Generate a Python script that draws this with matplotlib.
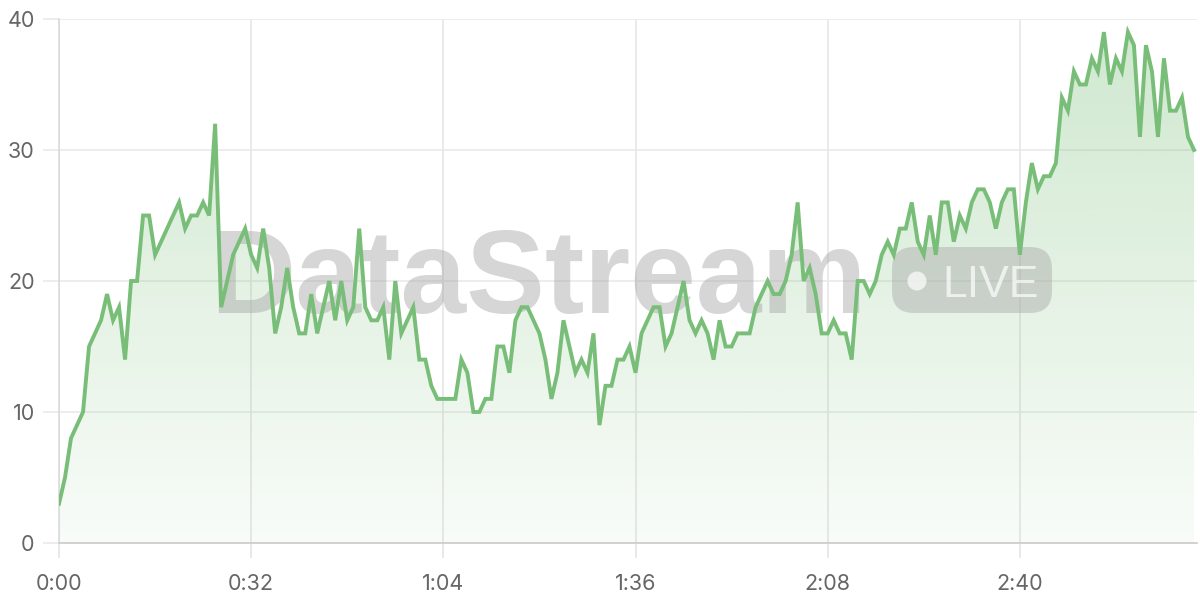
import numpy as np
import matplotlib
matplotlib.use("Agg")
import matplotlib.pyplot as plt
from matplotlib.patches import FancyBboxPatch, Circle

# one reading per second, 0:00 .. 3:09
values = [3, 5, 8, 9, 10, 15, 16, 17, 19, 17, 18, 14, 20, 20, 25, 25, 22, 23, 24, 25,
          26, 24, 25, 25, 26, 25, 32, 18, 20, 22, 23, 24, 22, 21, 24, 21, 16, 18, 21, 18,
          16, 16, 19, 16, 18, 20, 17, 20, 17, 18, 24, 18, 17, 17, 18, 14, 20, 16, 17, 18,
          14, 14, 12, 11, 11, 11, 11, 14, 13, 10, 10, 11, 11, 15, 15, 13, 17, 18, 18, 17,
          16, 14, 11, 13, 17, 15, 13, 14, 13, 16, 9, 12, 12, 14, 14, 15, 13, 16, 17, 18,
          18, 15, 16, 18, 20, 17, 16, 17, 16, 14, 17, 15, 15, 16, 16, 16, 18, 19, 20, 19,
          19, 20, 22, 26, 20, 21, 19, 16, 16, 17, 16, 16, 14, 20, 20, 19, 20, 22, 23, 22,
          24, 24, 26, 23, 22, 25, 22, 26, 26, 23, 25, 24, 26, 27, 27, 26, 24, 26, 27, 27,
          22, 26, 29, 27, 28, 28, 29, 34, 33, 36, 35, 35, 37, 36, 39, 35, 37, 36, 39, 38,
          31, 38, 36, 31, 37, 33, 33, 34, 31, 30]
seconds = np.arange(len(values))

x_ticks = [0, 32, 64, 96, 128, 160]
x_labels = ["0:00", "0:32", "1:04", "1:36", "2:08", "2:40"]
y_ticks = [0, 10, 20, 30, 40]

green = (120 / 255, 190 / 255, 120 / 255)

fig = plt.figure(figsize=(12, 6), dpi=100)
ax = fig.add_axes([59 / 1200, 1 - 543 / 600, (1197 - 59) / 1200, (543 - 19) / 600])

ax.set_xlim(0, 189.5)
ax.set_ylim(0, 40)

# gradient fill under the line
poly = ax.fill_between(seconds, values, 0, color="none", lw=0)
grad = np.zeros((256, 1, 4))
grad[:, 0, 0] = green[0]
grad[:, 0, 1] = green[1]
grad[:, 0, 2] = green[2]
grad[:, 0, 3] = np.linspace(0.36, 0.05, 256)
img = ax.imshow(grad, extent=[0, 189.5, 0, 40], aspect="auto", origin="upper", zorder=1)
path = poly.get_paths()[0]
img.set_clip_path(path, transform=ax.transData)

ax.plot(seconds, values, color=green, lw=2.8, zorder=5, solid_joinstyle="miter")

# watermark
inch = fig.dpi_scale_trans
ax.text(2.10, 2.87, "DataStream", transform=inch, fontsize=85, fontweight="bold",
        family="Liberation Sans", color="#a8a8a8", alpha=0.47, ha="left", va="baseline",
        zorder=3, clip_on=False)
pill = FancyBboxPatch((8.92, 2.87), 1.60, 0.66, boxstyle="round,pad=0,rounding_size=0.22",
                      transform=inch, facecolor="#a8a8a8", edgecolor="none", alpha=0.45,
                      zorder=3, clip_on=False)
ax.add_patch(pill)
ax.add_patch(Circle((9.17, 3.19), 0.095, transform=inch, facecolor="white", alpha=0.7,
                    edgecolor="none", zorder=4, clip_on=False))
ax.text(9.42, 3.03, "LIVE", transform=inch, fontsize=32, family="Liberation Sans",
        color="white", alpha=0.7, ha="left", va="baseline", zorder=4, clip_on=False)

# axes styling
ax.set_xticks(x_ticks)
ax.set_xticklabels(x_labels)
ax.set_yticks(y_ticks)
ax.grid(axis="y", color="#e8e8e8", lw=1.1, zorder=0)
ax.grid(axis="x", color="#e4e4e4", lw=1.1, zorder=0)
ax.set_axisbelow(True)
for s in ["top", "right"]:
    ax.spines[s].set_visible(False)
ax.spines["left"].set_color("#d8d8d8")
ax.spines["left"].set_linewidth(1.1)
ax.spines["bottom"].set_color("#cfcfcf")
ax.spines["bottom"].set_linewidth(1.3)
ax.tick_params(axis="x", length=11, width=1.1, color="#e2e2e2", pad=11,
               labelsize=15.5, labelcolor="#666666")
ax.tick_params(axis="y", length=11.5, width=1.1, color="#e8e8e8", pad=6,
               labelsize=15.5, labelcolor="#666666")
for lab in ax.get_xticklabels() + ax.get_yticklabels():
    lab.set_family("Inter")

fig.savefig("out.png", dpi=100)
